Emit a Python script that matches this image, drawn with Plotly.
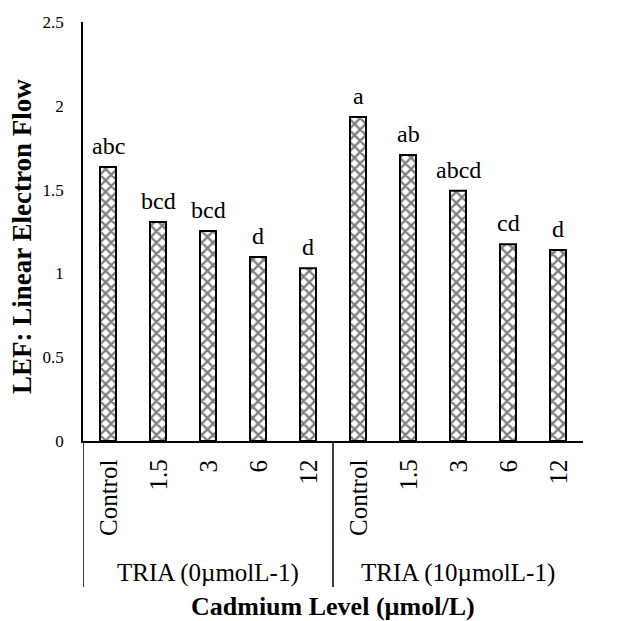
import plotly.graph_objects as go

categories = ["Control", "1.5", "3", "6", "12", "Control", "1.5", "3", "6", "12"]
groups = ["TRIA (0µmolL-1)", "TRIA (10µmolL-1)"]
group_sizes = [5, 5]
values = [1.635, 1.307, 1.253, 1.098, 1.031, 1.933, 1.706, 1.493, 1.174, 1.140]
letters = ["abc", "bcd", "bcd", "d", "d", "a", "ab", "abcd", "cd", "d"]
y_ticks = [0, 0.5, 1, 1.5, 2, 2.5]
y_title = "LEF: Linear Electron Flow"
x_title = "Cadmium Level (µmol/L)"

FONT = "Liberation Serif"
PLOT_H = 419.0
PLOT_W = 500.0

def py(px_below):
    return -px_below / PLOT_H

xs = list(range(len(categories)))

fig = go.Figure()
fig.add_trace(go.Bar(
    x=xs, y=values,
    width=0.32,
    marker=dict(
        color="white",
        line=dict(color="black", width=2),
        pattern=dict(shape="x", fgcolor="black", bgcolor="white", size=8, solidity=0.5),
    ),
    showlegend=False,
    hoverinfo="skip",
))

annotations = []
for x, v, t in zip(xs, values, letters):
    annotations.append(dict(x=x, y=v, xref="x", yref="y", text=t, showarrow=False,
                            yanchor="bottom", yshift=6,
                            font=dict(family=FONT, size=24, color="black")))
for x, c in zip(xs, categories):
    annotations.append(dict(x=x, y=py(17), xref="x", yref="paper", text=c, showarrow=False,
                            textangle=-90, yanchor="top", xanchor="center",
                            font=dict(family=FONT, size=25, color="black")))
start = 0
shapes = []
shapes.append(dict(type="line", xref="x", yref="paper", x0=-0.5, x1=-0.5, y0=0, y1=py(146),
                   line=dict(color="black", width=1.5)))
for g, n in zip(groups, group_sizes):
    center = start + (n - 1) / 2
    annotations.append(dict(x=center, y=py(132), xref="x", yref="paper", text=g, showarrow=False,
                            yanchor="middle", font=dict(family=FONT, size=25, color="black")))
    end = start + n - 0.5
    if start + n < len(categories):
        shapes.append(dict(type="line", xref="x", yref="paper", x0=end, x1=end, y0=0, y1=py(146),
                           line=dict(color="black", width=1.5)))
    start += n
annotations.append(dict(x=(len(categories) - 1) / 2, y=py(165), xref="x", yref="paper",
                        text="<b>" + x_title + "</b>", showarrow=False, yanchor="middle",
                        font=dict(family=FONT, size=26, color="black")))
annotations.append(dict(x=-61 / PLOT_W, y=(441 - 237) / PLOT_H, xref="paper", yref="paper",
                        text="<b>" + y_title + "</b>", showarrow=False, textangle=-90,
                        xanchor="center", yanchor="middle",
                        font=dict(family=FONT, size=27, color="black")))

# page body adds an 8px offset, so the figure is 613px and margins are shifted by 8
fig.update_layout(
    width=613, height=613,
    margin=dict(l=75, r=38, t=14, b=180, autoexpand=False),
    paper_bgcolor="white", plot_bgcolor="white",
    font=dict(family=FONT, color="black"),
    xaxis=dict(range=[-0.5, len(categories) - 0.5], showticklabels=False, ticks="",
               showgrid=False, zeroline=False, showline=True, linecolor="black", linewidth=1.5,
               automargin=False),
    yaxis=dict(range=[0, 2.5], tickvals=y_ticks, ticktext=[f"{t:g}" for t in y_ticks],
               ticks="", showgrid=False, zeroline=False, showline=True, linecolor="black",
               linewidth=1.5, ticklabelstandoff=14, tickfont=dict(family=FONT, size=17),
               automargin=False),
    annotations=annotations,
    shapes=shapes,
    bargap=0.68,
)

fig.write_html("out.html")
